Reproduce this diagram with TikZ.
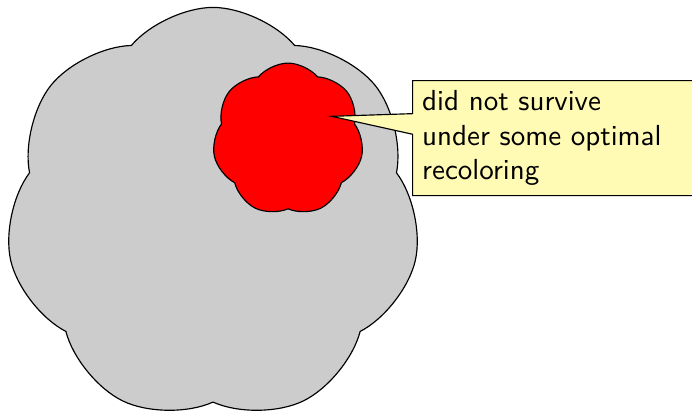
\documentclass[tikz,border=0pt]{standalone}
\usepackage{tikz}
\usetikzlibrary{shapes.symbols, shapes.callouts, positioning, calc}
\definecolor{mygray}{RGB}{204, 204, 204}
\definecolor{myyellow}{RGB}{255, 251, 181}

\begin{document}
\begin{tikzpicture}[
    blob/.style={cloud, cloud puffs=7, cloud puff arc=100, draw, thin, inner sep=0pt},
    note/.style={rectangle callout, draw, thin, fill=myyellow, font=\sffamily, align=left, text width=3.4cm}
  ]
  \useasboundingbox (0,0) rectangle (8.388,-4.982);
  % --- big cloud ---
  \node[blob, fill=mygray, minimum width=5.03cm, minimum height=5.02cm] (all) at (2.582,-2.60) {};
  % --- red cloud inside ---
  \node[blob, fill=red, minimum width=1.83cm, minimum height=1.85cm] (lost) at (3.491,-1.69) {};
  \coordinate (tip) at ($(lost.center)+(0.53,0.28)$);
  % --- callout ---
  \node[note, anchor=north west, callout absolute pointer={(tip)}] (msg) at (4.994,-0.970)
    {did not survive\\under some optimal\\recoloring};
\end{tikzpicture}
\end{document}
